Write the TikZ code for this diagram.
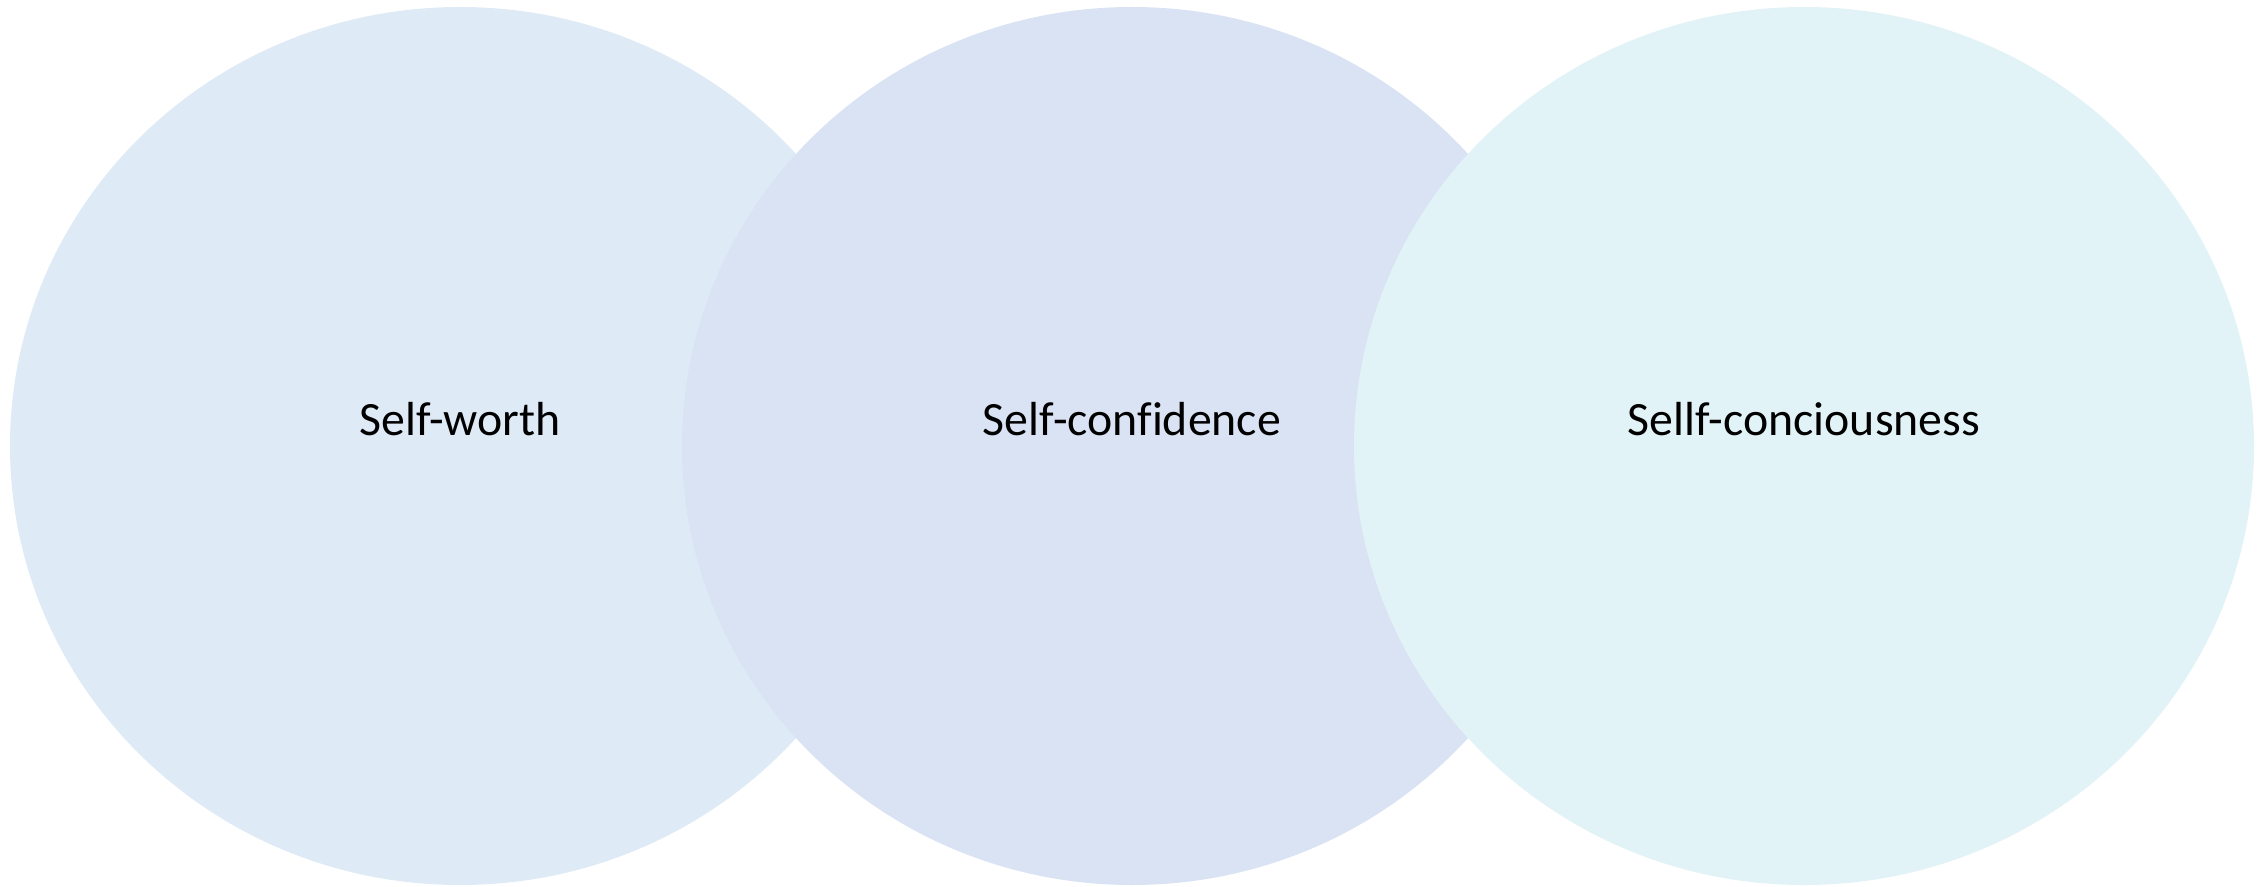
\documentclass[tikz,border=0pt]{standalone}
\usepackage{fontspec}
\setmainfont[Ligatures=NoCommon]{Carlito}
\usetikzlibrary{shapes.geometric,positioning}
\definecolor{worthfill}{HTML}{DEEAF6}
\definecolor{conffill}{HTML}{DAE3F3}
\definecolor{consfill}{HTML}{E2F3F7}
\begin{document}
\begin{tikzpicture}[x=1cm,y=1cm]
\tikzset{
  bubble/.style={ellipse,draw=none,minimum width=9.00cm,minimum height=8.78cm,inner sep=0pt},
  bubbletext/.style={font=\fontsize{13.6}{16}\selectfont,text=black,inner sep=1pt}
}
\useasboundingbox (0,0) rectangle (22.67,8.86);
\node[bubble,fill=worthfill] (b_worth) at (4.60,4.40) {};
\node[bubble,fill=conffill] (b_conf) at (11.32,4.40) {};
\node[bubble,fill=consfill] (b_cons) at (18.04,4.40) {};
\node[bubbletext] (t_worth) at (4.60,4.67) {Self-worth};
\node[bubbletext] (t_conf) at (11.32,4.67) {Self-confidence};
\node[bubbletext] (t_cons) at (18.04,4.67) {Sellf-conciousness};
\end{tikzpicture}
\end{document}
